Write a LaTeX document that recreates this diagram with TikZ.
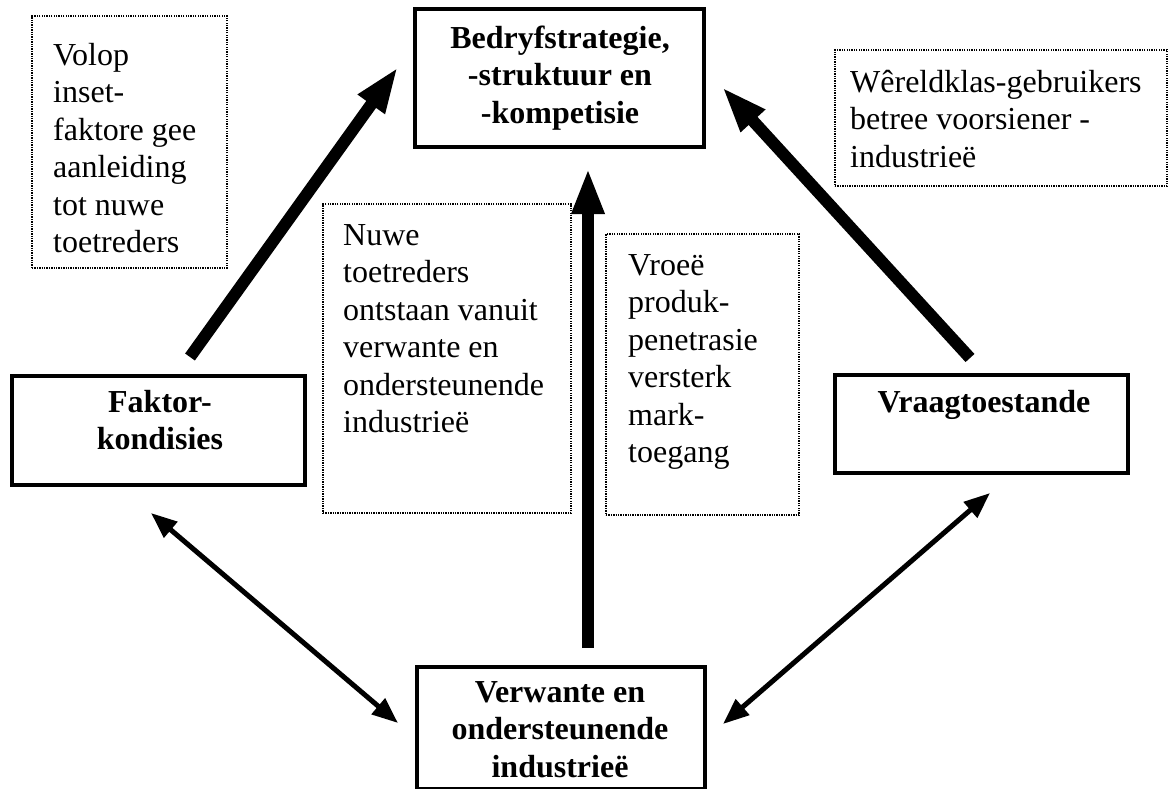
\documentclass[tikz,border=0pt]{standalone}
\usepackage{fontspec}
\setmainfont{Liberation Serif}
\usetikzlibrary{arrows.meta}
\newcommand{\linesleft}[1]{\begin{tabular}[t]{@{}l@{}}#1\end{tabular}}
\newcommand{\linescenter}[1]{\begin{tabular}[t]{@{}c@{}}#1\end{tabular}}
\begin{document}
\begin{tikzpicture}[x=1pt,y=-1pt,
  font=\fontsize{32}{37.5}\selectfont,
  mainbox/.style={draw, line width=3.3pt, inner sep=0pt},
  notebox/.style={draw, line width=1.4pt, dash pattern=on 1.3pt off 1.1pt, inner sep=0pt},
  boldtext/.style={inner sep=0pt, anchor=base, font=\fontsize{32}{37.5}\selectfont\bfseries},
  notetext/.style={inner sep=0pt, anchor=base west},
  bigarrow/.style={line width=12pt, -{Triangle[length=46pt,width=30pt]}},
  twoway/.style={line width=5pt, {Triangle[length=26pt,width=20pt]}-{Triangle[length=26pt,width=20pt]}}]
\useasboundingbox (0,0) rectangle (1174,788);

% the four determinants
\node[mainbox, minimum width=289pt, minimum height=138pt] (bs) at (559.5,78) {};
\node[mainbox, minimum width=293pt, minimum height=109pt] (fk) at (158.5,430.5) {};
\node[mainbox, minimum width=293pt, minimum height=98pt] (vr) at (981.5,424) {};
\node[mainbox, minimum width=288pt, minimum height=122pt] (vo) at (561,728) {};

\node[boldtext] (bsT) at (560,48) {\linescenter{Bedryfstrategie,\\-struktuur en\\-kompetisie}};
\node[boldtext] (fkT) at (160,412) {\linescenter{Faktor-\\kondisies}};
\node[boldtext] (vrT) at (984,412) {Vraagtoestande};
\node[boldtext] (voT) at (560,702) {\linescenter{Verwante en\\ondersteunende\\industrieë}};

% explanatory notes
\node[notebox, minimum width=195pt, minimum height=252pt] (n1) at (129.5,142) {};
\node[notebox, minimum width=248pt, minimum height=309pt] (n2) at (447,358.5) {};
\node[notebox, minimum width=193pt, minimum height=281pt] (n3) at (702.5,374.5) {};
\node[notebox, minimum width=332pt, minimum height=136pt] (n4) at (1001,118) {};

\node[notetext] (n1T) at (53,65) {\linesleft{Volop\\inset-\\faktore gee\\aanleiding\\tot nuwe\\toetreders}};
\node[notetext] (n2T) at (343,245) {\linesleft{Nuwe\\toetreders\\ontstaan vanuit\\verwante en\\ondersteunende\\industrieë}};
\node[notetext] (n3T) at (628,275) {\linesleft{Vroeë\\produk-\\penetrasie\\versterk\\mark-\\toegang}};
\node[notetext] (n4T) at (850,92) {\linesleft{Wêreldklas-gebruikers\\betree voorsiener -\\industrieë}};

% connector ends
\coordinate (fkOut) at (190,357);
\coordinate (bsInL) at (398,67);
\coordinate (voOut) at (588,648);
\coordinate (bsInB) at (588,168);
\coordinate (vrOut) at (970,358);
\coordinate (bsInR) at (722,87);
\coordinate (fkLow) at (151,513);
\coordinate (voL) at (398,723);
\coordinate (vrLow) at (990,493);
\coordinate (voR) at (723,724);

% influences
\draw[bigarrow] (fkOut) -- (bsInL);
\draw[bigarrow] (voOut) -- (bsInB);
\draw[bigarrow] (vrOut) -- (bsInR);
\draw[twoway] (fkLow) -- (voL);
\draw[twoway] (vrLow) -- (voR);
\end{tikzpicture}
\end{document}
